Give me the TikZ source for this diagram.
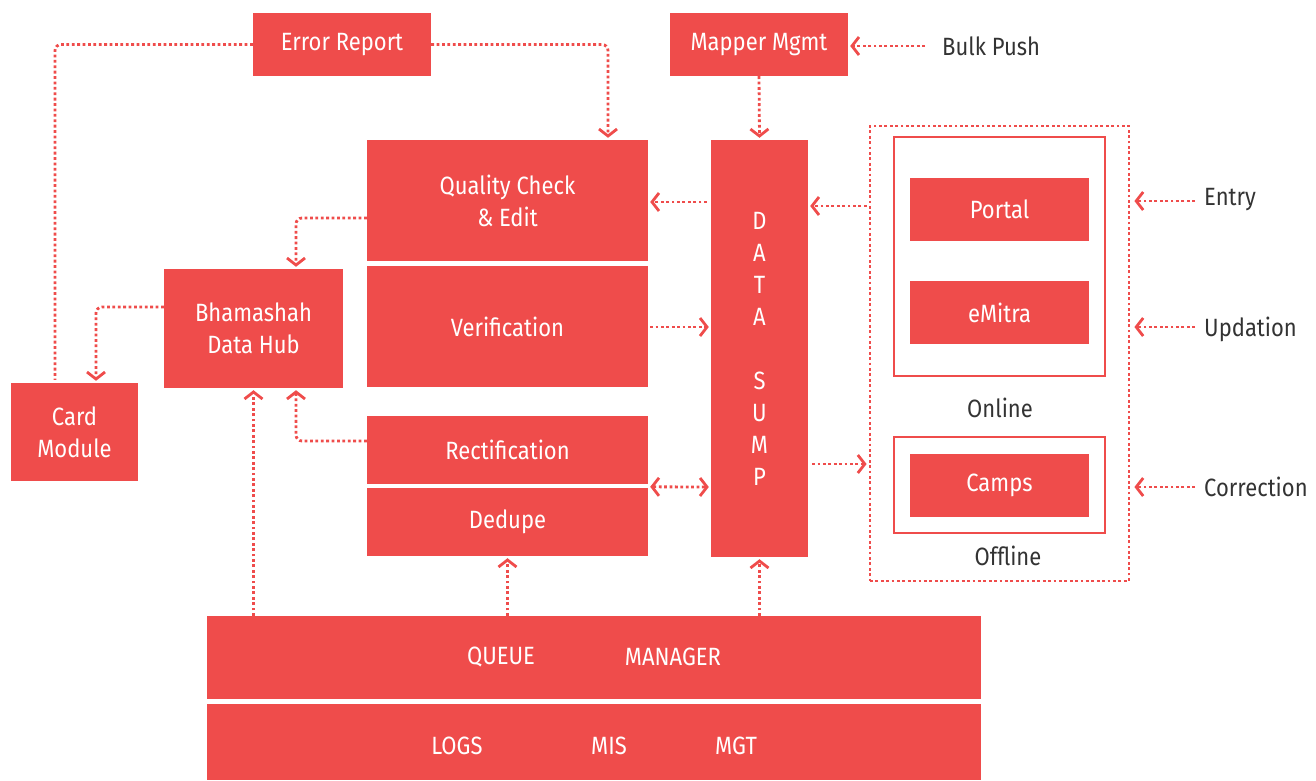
\documentclass[tikz,border=0pt]{standalone}
\usepackage{fontspec}
\setmainfont{Fira Sans}[FakeStretch=0.88]
\usetikzlibrary{arrows.meta}
\definecolor{boxred}{RGB}{239,76,75}
\definecolor{txtgray}{RGB}{51,51,51}
\begin{document}
\begin{tikzpicture}[x=1pt,y=-1pt,
  box/.style={fill=boxred, draw=none, text=white, inner sep=0pt, align=center, font=\fontsize{25}{32}\selectfont},
  wtxt/.style={text=white, inner sep=0pt, font=\fontsize{25}{32}\selectfont},
  lbl/.style={text=txtgray, inner sep=0pt, font=\fontsize{25}{28}\selectfont},
  frame/.style={draw=boxred, line width=2.5pt, inner sep=0pt},
  dl/.style={draw=boxred, line width=2.8pt, dash pattern=on 2.8pt off 2.6pt},
  arr/.style={dl, -{Straight Barb[length=7pt,width=18pt,line width=2.8pt]}, shorten >=2pt},
  darr/.style={dl, {Straight Barb[length=7pt,width=18pt,line width=2.8pt]}-{Straight Barb[length=7pt,width=18pt,line width=2.8pt]}, shorten >=2pt, shorten <=2pt},
  rc/.style={rounded corners=6pt}
]
\useasboundingbox (0,0) rectangle (1316,780);

% boxes
\node[box, minimum width=178pt, minimum height=63pt] (err) at (342,44.5) {Error Report};
\node[box, minimum width=178pt, minimum height=63pt] (mapper) at (759,44.5) {Mapper Mgmt};
\node[box, minimum width=281pt, minimum height=121pt] (qc) at (507.5,200.5) {Quality Check\\\& Edit};
\node[box, minimum width=281pt, minimum height=121pt] (verif) at (507.5,326.5) {Verification};
\node[box, minimum width=281pt, minimum height=68pt] (rect) at (507.5,450) {Rectification};
\node[box, minimum width=281pt, minimum height=68pt] (dedupe) at (507.5,522) {Dedupe};
\node[box, minimum width=97pt, minimum height=417pt] (sump) at (759.5,348.5) {};
\node[wtxt, align=center] (sumptxt) at (759.5,349) {D\\A\\T\\A\\[32pt]S\\U\\M\\P};
\node[box, minimum width=179pt, minimum height=119pt] (hub) at (253.5,328.5) {Bhamashah\\Data Hub};
\node[box, minimum width=127pt, minimum height=98pt] (card) at (74.5,432) {Card\\Module};
\node[box, minimum width=774pt, minimum height=83pt] (qm) at (594,657.5) {};
\node[wtxt] (queue) at (501,657) {QUEUE};
\node[wtxt] (manager) at (673,657) {MANAGER};
\node[box, minimum width=774pt, minimum height=76pt] (logs) at (594,742) {};
\node[wtxt] (logst) at (457,746) {LOGS};
\node[wtxt] (mis) at (609,746) {MIS};
\node[wtxt] (mgt) at (736,746) {MGT};

% right side
\node[dl, inner sep=0pt, minimum width=259pt, minimum height=455pt] (outer) at (999.5,353.5) {};
\node[frame, minimum width=211pt, minimum height=239pt] (online) at (999.5,256.5) {};
\node[frame, minimum width=211pt, minimum height=96pt] (offline) at (999.5,485) {};
\node[box, minimum width=179pt, minimum height=63pt] (portal) at (999.5,209.5) {Portal};
\node[box, minimum width=179pt, minimum height=63pt] (emitra) at (999.5,312.5) {eMitra};
\node[box, minimum width=179pt, minimum height=63pt] (camps) at (999.5,485.5) {Camps};
\node[lbl] (onlinet) at (1000,408) {Online};
\node[lbl] (offlinet) at (1008,556) {Offline};
\node[lbl, anchor=west] (bulk) at (942,46) {Bulk Push};
\node[lbl, anchor=west] (entry) at (1204,200) {Entry};
\node[lbl, anchor=west] (upd) at (1204,329) {Updation};
\node[lbl, anchor=west] (corr) at (1204,487) {Correction};

% connectors
\draw[dl, rc] (err.west) -| ([xshift=-19.5pt,yshift=3pt]card.north);
\draw[arr, rc] (err.east) -| ([xshift=100.5pt]qc.north);
\draw[arr] (mapper.south) -- (sump.north);
\draw[arr, shorten <=17pt] (bulk.west) -- (bulk.west -| mapper.east);
\draw[arr, rc] ([yshift=-17.5pt]qc.west) -| ([xshift=42.5pt]hub.north);
\draw[arr, rc] ([yshift=21.5pt]hub.west) -| ([xshift=21.5pt]card.north);
\draw[arr, rc] ([yshift=9pt]rect.west) -| ([xshift=42.5pt]hub.south);
\draw[arr] (hub.south |- qm.north) -- (hub.south);
\draw[arr] (dedupe.south |- qm.north) -- (dedupe.south);
\draw[arr] (sump.south |- qm.north) -- (sump.south);
\draw[arr, shorten <=4pt] ([yshift=146.5pt]sump.west) -- ([yshift=-1.5pt]qc.east);
\draw[arr, shorten <=2pt] ([yshift=-0.5pt]verif.east) -- ([yshift=21.5pt]sump.west);
\draw[darr] ([yshift=1pt]dedupe.north east) -- ([yshift=-138.5pt]sump.west);
\draw[arr, shorten <=2pt] ([yshift=147.5pt]outer.west) -- ([yshift=142.5pt]sump.east);
\draw[arr, shorten <=4pt] ([yshift=-115.5pt]sump.east) -- ([yshift=-110.5pt]outer.west);
\draw[arr, shorten <=9pt, shorten >=4pt] ([yshift=-1pt]entry.west) -- ([yshift=-1pt]entry.west -| outer.east);
\draw[arr, shorten <=9pt, shorten >=4pt] ([yshift=2pt]upd.west) -- ([yshift=2pt]upd.west -| outer.east);
\draw[arr, shorten <=9pt, shorten >=4pt] (corr.west) -- (corr.west -| outer.east);
\end{tikzpicture}
\end{document}
